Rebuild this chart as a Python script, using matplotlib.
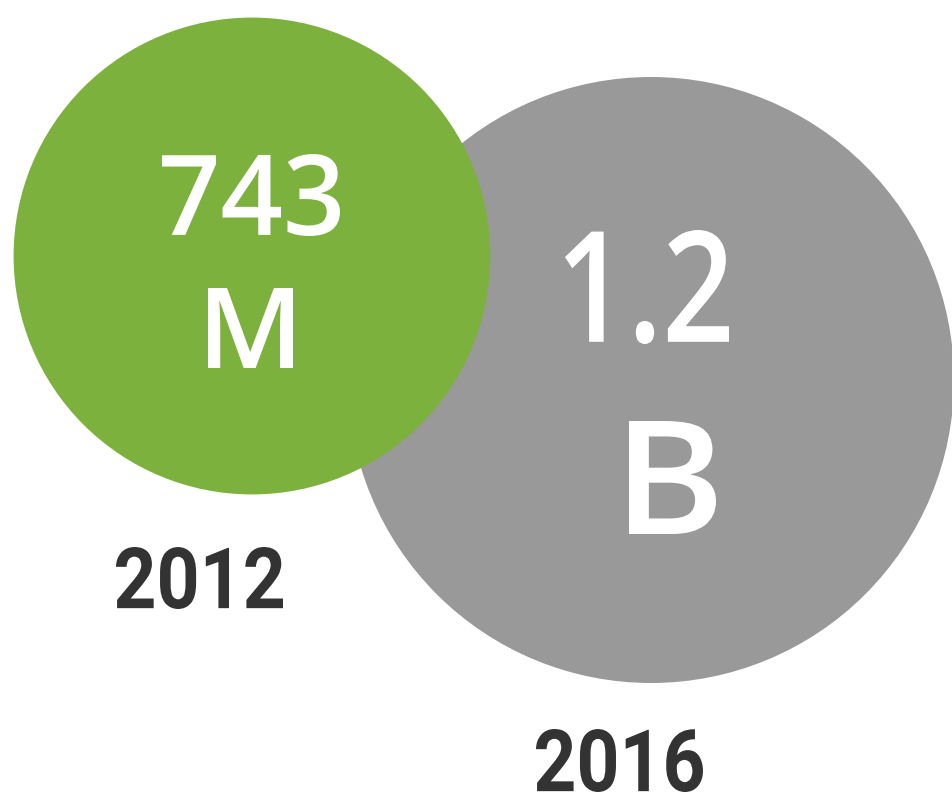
import numpy as np
import matplotlib
matplotlib.use("Agg")
import matplotlib.pyplot as plt
from matplotlib.patches import Circle, PathPatch
from matplotlib.textpath import TextPath
from matplotlib.font_manager import FontProperties, findfont
from matplotlib.transforms import Affine2D

# data
years = ["2012", "2016"]
users = [743e6, 1.2e9]
value_lines = [["743", "M"], ["1.2", "B"]]
colors = ["#7db13e", "#999999"]

# layout (pixels, y down)
centers = [(252, 256), (651, 380)]
r_max = 303
# ink boxes of the labels: x0, x1, top, baseline
value_box = [[(162, 340, 154, 236), (208, 293, 288, 368)],
             [(565, 729, 230, 344), (629, 716, 421, 534)]]
year_box = [(116, 283, 547, 609), (536, 703, 729, 792)]


def boxed_label(ax, s, box, color, prop, z):
    # fit the glyph outline into the box
    x0, x1, y_top, y_base = box
    tp = TextPath((0, 0), s, size=100, prop=prop)
    ext = tp.get_extents()
    sx = (x1 - x0) / ext.width
    sy = (y_base - y_top) / ext.height
    tr = Affine2D().translate(-ext.x0, -ext.y0).scale(sx, -sy).translate(x0, y_base)
    ax.add_patch(PathPatch(tr.transform_path(tp), fc=color, ec="none", lw=0, zorder=z))


fig = plt.figure(figsize=(9.52, 7.97), dpi=100)
ax = fig.add_axes([0, 0, 1, 1])
ax.set_xlim(0, 952)
ax.set_ylim(797, 0)
ax.set_aspect("equal")
ax.axis("off")

value_font = FontProperties(family="Open Sans", weight="semibold")
year_font = FontProperties(family="Roboto", weight="bold")
print(findfont(value_font), findfont(year_font))

vmax = max(users)
for i in range(len(users)):
    r = r_max * np.sqrt(users[i] / vmax)
    # smaller bubble on top
    z = 2 if users[i] < vmax else 1
    ax.add_patch(Circle(centers[i], r, fc=colors[i], ec="none", zorder=z))
    for line, box in zip(value_lines[i], value_box[i]):
        boxed_label(ax, line, box, "white", value_font, z + 2)
    boxed_label(ax, years[i], year_box[i], "#333333", year_font, 5)

fig.savefig("out.png", dpi=100)
